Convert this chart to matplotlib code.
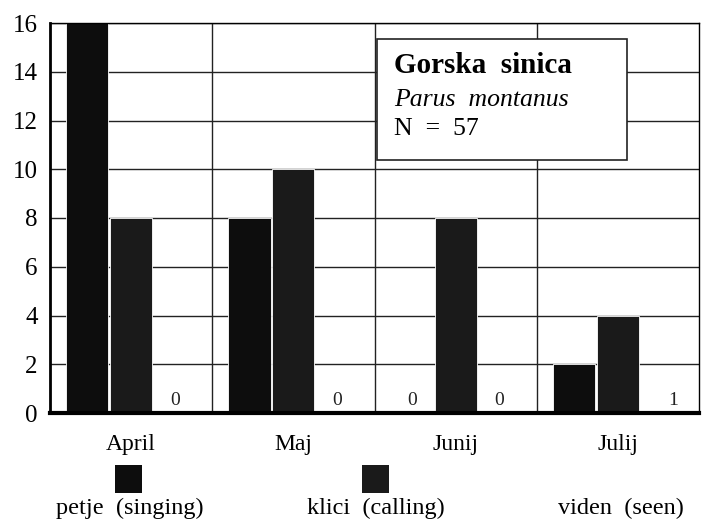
import matplotlib
matplotlib.use("Agg")
import matplotlib.pyplot as plt
from matplotlib.patches import Rectangle
import numpy as np

months = ["April", "Maj", "Junij", "Julij"]
petje = [16, 8, 0, 2]
klici = [8, 10, 8, 4]
viden = [0, 0, 0, 1]
series_names = ["petje  (singing)", "klici  (calling)", "viden  (seen)"]
yticks = [0, 2, 4, 6, 8, 10, 12, 14, 16]

plt.rcParams['font.family'] = ['Liberation Serif', 'DejaVu Serif']

W, H = 704, 524
fig = plt.figure(figsize=(W / 100, H / 100), dpi=100)
ax = fig.add_axes([50 / W, 1 - 413 / H, (699 - 50) / W, (413 - 23) / H])

x = np.arange(len(months))
offsets = [0.23, 0.50, 0.77]
width = 0.26
colors = ["#0d0d0d", "#1a1a1a", "#ffffff"]
allvals = [petje, klici, viden]
for vals, off, c in zip(allvals, offsets, colors):
    ax.bar(x + off, vals, width=width, color=c, edgecolor="white", linewidth=0.6, zorder=3)
    for xi, v in zip(x, vals):
        if v <= 1:
            ax.text(xi + off + (0.07 if v == 1 else 0), 0.15, str(v), ha="center", va="bottom",
                    fontsize=14, color="#222222", zorder=5)

ax.set_xlim(0, 4)
ax.set_ylim(0, 16)
ax.set_yticks(yticks)
ax.set_yticklabels([str(t) for t in yticks], fontsize=18)
ax.set_xticks(x + 0.5)
ax.set_xticklabels(months, fontsize=17)
ax.tick_params(axis="x", length=0, pad=15)
ax.tick_params(axis="y", length=0, pad=9)
for yv in yticks[1:]:
    ax.axhline(yv, color="#222222", lw=1.0, zorder=1)
for xv in [1, 2, 3]:
    ax.axvline(xv, color="#222222", lw=1.0, zorder=1)
for s in ["top", "right"]:
    ax.spines[s].set_linewidth(1.0)
ax.spines["left"].set_linewidth(2.0)
ax.spines["bottom"].set_linewidth(3.0)
for s in ax.spines.values():
    s.set_zorder(6)

# info box
box = Rectangle((2.015, 10.38), 3.556 - 2.015, 15.34 - 10.38, facecolor="white",
                edgecolor="#222222", lw=1.2, zorder=7)
ax.add_patch(box)
ax.text(2.12, 14.25, "Gorska  sinica", fontsize=21, fontweight="bold", va="center", ha="left", zorder=8)
ax.text(2.12, 12.85, "Parus  montanus", fontsize=18.5, style="italic", va="center", ha="left", zorder=8)
ax.text(2.12, 11.65, "N  =  57", fontsize=18.5, va="center", ha="left", zorder=8)

# legend
sw = [(115, "#0d0d0d"), (362, "#1a1a1a")]
for px, c in sw:
    fig.add_artist(Rectangle((px / W, 1 - 493 / H), 27 / W, 28 / H, facecolor=c,
                             edgecolor="none", transform=fig.transFigure))
for cx, name in zip([130, 376, 621], series_names):
    fig.text(cx / W, 1 - 508 / H, name, fontsize=17.5, ha="center", va="center")

fig.savefig("out.png", dpi=100)
